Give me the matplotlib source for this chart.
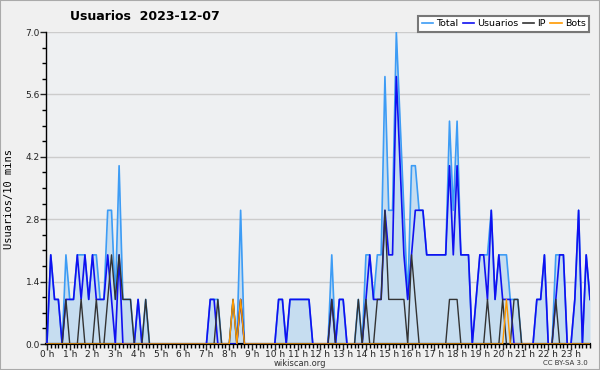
import numpy as np
import matplotlib.pyplot as plt
from matplotlib.ticker import MultipleLocator, FixedLocator
from matplotlib.patches import Rectangle
from matplotlib.lines import Line2D

# 10-minute slots over the day
slots = np.arange(144)
hour_labels = ['%d h' % h for h in range(24)]

total = [0, 2, 1, 1, 0, 2, 1, 1, 2, 2, 2, 1, 2, 2, 1, 1, 3, 3, 1, 4, 1, 1, 1, 0,
         1, 0, 1, 0, 0, 0, 0, 0, 0, 0, 0, 0, 0, 0, 0, 0, 0, 0, 0, 1, 1, 1, 0, 0,
         0, 1, 0, 3, 0, 0, 0, 0, 0, 0, 0, 0, 0, 1, 1, 0, 1, 1, 1, 1, 1, 1, 0, 0,
         0, 0, 0, 2, 0, 1, 1, 0, 0, 0, 1, 0, 2, 2, 1, 2, 2, 6, 3, 3, 7, 5, 3, 1,
         4, 4, 3, 3, 2, 2, 2, 2, 2, 2, 5, 3, 5, 2, 2, 2, 0, 1, 2, 2, 2, 3, 1, 2,
         2, 2, 1, 1, 1, 0, 0, 0, 0, 1, 1, 2, 0, 0, 2, 2, 2, 0, 0, 1, 3, 0, 2, 1]
usuarios = [0, 2, 1, 1, 0, 1, 1, 1, 2, 1, 2, 1, 2, 1, 1, 1, 2, 1, 0, 2, 0, 0, 0, 0,
            1, 0, 0, 0, 0, 0, 0, 0, 0, 0, 0, 0, 0, 0, 0, 0, 0, 0, 0, 1, 1, 0, 0, 0,
            0, 0, 0, 1, 0, 0, 0, 0, 0, 0, 0, 0, 0, 1, 1, 0, 1, 1, 1, 1, 1, 1, 0, 0,
            0, 0, 0, 1, 0, 1, 1, 0, 0, 0, 0, 0, 1, 2, 1, 1, 1, 3, 2, 2, 6, 4, 2, 1,
            2, 3, 3, 3, 2, 2, 2, 2, 2, 2, 4, 2, 4, 2, 2, 2, 0, 1, 2, 2, 1, 3, 1, 2,
            1, 1, 1, 0, 0, 0, 0, 0, 0, 1, 1, 2, 0, 0, 1, 2, 2, 0, 0, 1, 3, 0, 2, 1]
ip = [0, 0, 0, 0, 0, 1, 0, 0, 0, 1, 0, 0, 0, 1, 0, 0, 1, 2, 1, 2, 1, 1, 1, 0,
      0, 0, 1, 0, 0, 0, 0, 0, 0, 0, 0, 0, 0, 0, 0, 0, 0, 0, 0, 0, 0, 1, 0, 0,
      0, 1, 0, 1, 0, 0, 0, 0, 0, 0, 0, 0, 0, 0, 0, 0, 0, 0, 0, 0, 0, 0, 0, 0,
      0, 0, 0, 1, 0, 0, 0, 0, 0, 0, 1, 0, 1, 0, 0, 1, 1, 3, 1, 1, 1, 1, 1, 0,
      2, 1, 0, 0, 0, 0, 0, 0, 0, 0, 1, 1, 1, 0, 0, 0, 0, 0, 0, 0, 1, 0, 0, 0,
      1, 0, 0, 1, 1, 0, 0, 0, 0, 0, 0, 0, 0, 0, 1, 0, 0, 0, 0, 0, 0, 0, 0, 0]
bots = [0] * 49 + [1, 0, 1] + [0] * 69 + [1] + [0] * 22

c_total = '#3d9cf5'
c_users = '#1010f0'
c_ip = '#333333'
c_bots = '#ff9900'

fig = plt.figure(figsize=(6, 3.7), dpi=100, facecolor='#f0f0f0')
ax = fig.add_axes([46 / 600, 1 - 344 / 370, 544 / 600, 312 / 370])
ax.set_facecolor('#eef0f2')

ax.fill_between(slots, total, 0, color='#c6ddf0', lw=0, zorder=1)
ax.plot(slots, total, color=c_total, lw=1.2, zorder=3)
ax.plot(slots, usuarios, color=c_users, lw=1.2, zorder=4)
ax.plot(slots, ip, color=c_ip, lw=1.0, zorder=5)
ax.plot(slots, bots, color=c_bots, lw=1.0, zorder=6)

ax.set_xlim(-0.25, 143)
ax.set_ylim(0, 7)
ax.xaxis.set_major_locator(FixedLocator(np.arange(0, 144, 6)))
ax.set_xticklabels(hour_labels)
ax.xaxis.set_minor_locator(MultipleLocator(1))
ax.yaxis.set_major_locator(MultipleLocator(1.4))
ax.yaxis.set_minor_locator(MultipleLocator(0.35))
ax.yaxis.set_major_formatter(plt.FormatStrFormatter('%.1f'))
ax.tick_params(labelsize=6.5, colors='#222', length=4, width=1, pad=0.5)
ax.tick_params(which='minor', length=3, width=1)
ax.grid(axis='y', color='#cccccc', lw=1)
ax.set_axisbelow(True)
for s in ['top', 'right']:
    ax.spines[s].set_visible(False)
ax.spines['left'].set_linewidth(1)
ax.spines['bottom'].set_linewidth(1.6)

fig.text(9 / 600, 1 - 199 / 370, 'Usuarios/10 mins', rotation=90, ha='center',
         va='center', fontsize=7.5, family='DejaVu Sans Mono')
fig.text(145 / 600, 1 - 17 / 370, 'Usuarios  2023-12-07', ha='center', va='center',
         fontsize=9, fontweight='bold')

handles = [Line2D([], [], color=c, lw=1.2) for c in [c_total, c_users, c_ip, c_bots]]
leg = fig.legend(handles, ['Total', 'Usuarios', 'IP', 'Bots'], loc='upper right',
                 bbox_to_anchor=(589 / 600, 1 - 16 / 370), ncol=4, fontsize=6.8,
                 handlelength=1.2, handletextpad=0.35, columnspacing=0.45,
                 borderpad=0.35, borderaxespad=0, fancybox=False, framealpha=1,
                 edgecolor='#777')
leg.get_frame().set_linewidth(1.5)

fig.text(300 / 600, 1 - 363 / 370, 'wikiscan.org', ha='center', va='center',
         fontsize=6, color='#333')
fig.text(588 / 600, 1 - 363 / 370, 'CC BY-SA 3.0', ha='right', va='center',
         fontsize=5, color='#333')
fig.patches.append(Rectangle((0, 0), 1, 1, transform=fig.transFigure, fill=False,
                             ec='#aaaaaa', lw=1.5))

fig.savefig('out.png', dpi=100, facecolor=fig.get_facecolor())
